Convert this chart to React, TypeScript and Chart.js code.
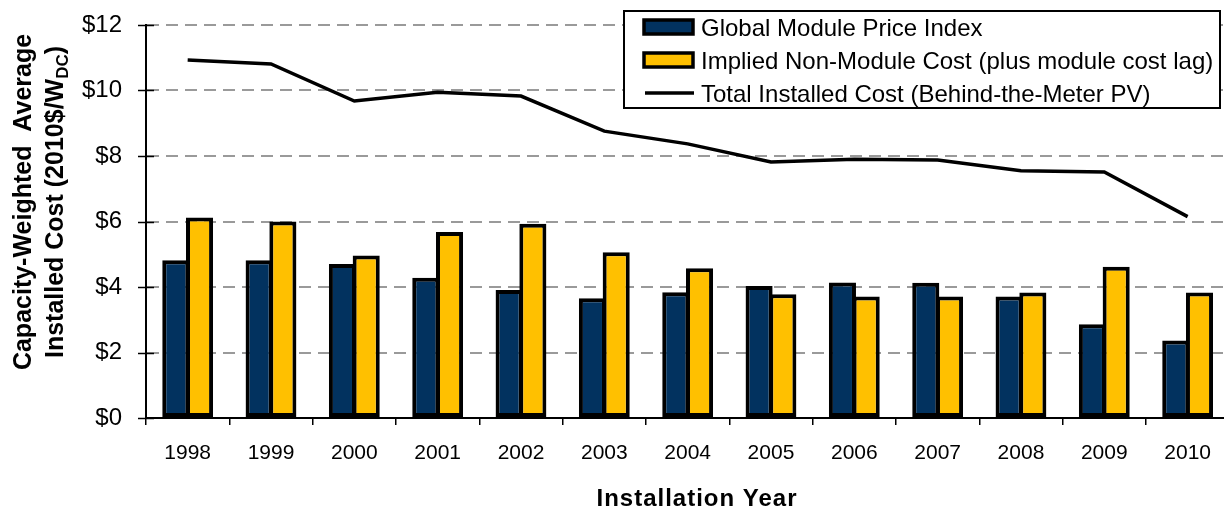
import React, { useEffect, useRef } from "react";
import { Chart, registerables } from "chart.js";

Chart.register(...registerables);

const years = ["1998", "1999", "2000", "2001", "2002", "2003", "2004", "2005", "2006", "2007", "2008", "2009", "2010"];
const modulePrice = [4.82, 4.82, 4.7, 4.28, 3.91, 3.66, 3.84, 4.03, 4.14, 4.13, 3.71, 2.86, 2.37];
const nonModuleCost = [6.12, 6.0, 4.96, 5.68, 5.93, 5.06, 4.57, 3.78, 3.71, 3.71, 3.83, 4.62, 3.83];
const totalInstalled = [10.93, 10.81, 9.68, 9.95, 9.83, 8.76, 8.37, 7.82, 7.9, 7.88, 7.55, 7.51, 6.15];
const yTickLabels = ["$0", "$2", "$4", "$6", "$8", "$10", "$12"];

const seriesNames = [
  "Global Module Price Index",
  "Implied Non-Module Cost (plus module cost lag)",
  "Total Installed Cost (Behind-the-Meter PV)",
];
const yTitleLine1 = "Capacity-Weighted  Average";
const yTitleLine2a = "Installed Cost (2010$/W";
const yTitleSub = "DC";
const yTitleLine2b = ")";
const xTitle = "Installation Year";

const FONT = "'Liberation Sans', Arial, Helvetica, sans-serif";
const BLUE = "#02325F";
const GOLD = "#FFC000";

const overlayPlugin = {
  id: "overlay",
  afterDraw(chart: any) {
    const { ctx, chartArea, scales } = chart;
    const y = scales.y;
    ctx.save();
    // y tick marks crossing the axis
    ctx.strokeStyle = "#000";
    ctx.lineWidth = 1.5;
    y.ticks.forEach((_t: any, i: number) => {
      const py = Math.round(y.getPixelForTick(i)) + 0.5;
      ctx.beginPath();
      ctx.moveTo(chartArea.left - 8, py);
      ctx.lineTo(chartArea.left + 8, py);
      ctx.stroke();
    });
    ctx.restore();

    // y title (rotated, two lines with subscript)
    ctx.save();
    ctx.fillStyle = "#000";
    ctx.translate(31, 202);
    ctx.rotate(-Math.PI / 2);
    ctx.textBaseline = "alphabetic";
    ctx.font = `bold 25px ${FONT}`;
    ctx.textAlign = "center";
    ctx.fillText(yTitleLine1, 0, 0);
    ctx.textAlign = "left";
    const wA = ctx.measureText(yTitleLine2a).width;
    const wB = ctx.measureText(yTitleLine2b).width;
    ctx.font = `bold 17px ${FONT}`;
    const wS = ctx.measureText(yTitleSub).width;
    const total = wA + wS + wB;
    let x0 = -total / 2;
    ctx.font = `bold 25px ${FONT}`;
    ctx.fillText(yTitleLine2a, x0, 32);
    x0 += wA;
    ctx.font = `bold 17px ${FONT}`;
    ctx.fillText(yTitleSub, x0, 37);
    x0 += wS;
    ctx.font = `bold 25px ${FONT}`;
    ctx.fillText(yTitleLine2b, x0, 32);
    ctx.restore();

    // x title
    ctx.save();
    ctx.fillStyle = "#000";
    ctx.font = `bold 24px ${FONT}`;
    ctx.textAlign = "center";
    ctx.textBaseline = "alphabetic";
    (ctx as any).letterSpacing = "1px";
    ctx.fillText(xTitle, 697, 506);
    ctx.restore();

    // legend
    ctx.save();
    const bx = 624, by = 11, bw = 596, bh = 97;
    ctx.fillStyle = "#fff";
    ctx.fillRect(bx, by, bw, bh);
    ctx.strokeStyle = "#000";
    ctx.lineWidth = 2;
    ctx.strokeRect(bx, by, bw, bh);
    const rows = [27, 60, 93];
    const ds = chart.data.datasets;
    rows.forEach((cy, i) => {
      const d = ds[i];
      if (d.type === "line") {
        ctx.strokeStyle = d.borderColor;
        ctx.lineWidth = 3.5;
        ctx.beginPath();
        ctx.moveTo(645, cy);
        ctx.lineTo(694, cy);
        ctx.stroke();
      } else {
        ctx.fillStyle = d.backgroundColor;
        ctx.fillRect(644, cy - 7, 49, 14);
        ctx.strokeStyle = "#000";
        ctx.lineWidth = 3.5;
        ctx.strokeRect(644, cy - 7, 49, 14);
      }
      ctx.fillStyle = "#000";
      ctx.font = `24px ${FONT}`;
      ctx.textAlign = "left";
      ctx.textBaseline = "alphabetic";
      ctx.fillText(d.label, 701, cy + 9);
    });
    ctx.restore();
  },
};

export default function App() {
  const ref = useRef<HTMLCanvasElement>(null);
  useEffect(() => {
    if (!ref.current) return;
    const chart = new Chart(ref.current, {
      type: "bar",
      data: {
        labels: years,
        datasets: [
          {
            type: "bar",
            label: seriesNames[0],
            data: modulePrice,
            backgroundColor: BLUE,
            borderColor: "#000",
            borderWidth: 4,
            borderSkipped: false,
            categoryPercentage: 0.57,
            barPercentage: 1.14,
            order: 1,
          },
          {
            type: "bar",
            label: seriesNames[1],
            data: nonModuleCost,
            backgroundColor: GOLD,
            borderColor: "#000",
            borderWidth: 4,
            borderSkipped: false,
            categoryPercentage: 0.57,
            barPercentage: 1.14,
            order: 1,
          },
          {
            type: "line",
            label: seriesNames[2],
            data: totalInstalled,
            borderColor: "#000",
            backgroundColor: "#000",
            borderWidth: 3.5,
            pointRadius: 0,
            tension: 0,
            order: 0,
          } as any,
        ],
      },
      options: {
        responsive: false,
        animation: false,
        layout: { padding: { top: 25, left: 0, right: 2.7, bottom: 0 } },
        plugins: {
          legend: { display: false },
          tooltip: { enabled: false },
        },
        scales: {
          x: {
            afterFit: (s: any) => {
              s.height = 92;
            },
            grid: {
              display: true,
              drawOnChartArea: false,
              drawTicks: true,
              tickLength: 7,
              color: "#000",
              lineWidth: 1.5,
              offset: true,
            },
            border: { display: true, color: "#000", width: 2 },
            ticks: {
              color: "#000",
              font: { family: FONT, size: 21 },
              padding: 16,
              maxRotation: 0,
            },
          },
          y: {
            min: 0,
            max: 12,
            afterFit: (s: any) => {
              s.width = 146;
              s.paddingTop = 0;
              s.paddingBottom = 0;
            },
            grid: {
              color: "#9a9a9a",
              lineWidth: 2,
              drawTicks: false,
            },
            border: { display: true, color: "#000", width: 2, dash: [12, 7] },
            ticks: {
              stepSize: 2,
              color: "#000",
              padding: 24,
              font: { family: FONT, size: 24 },
              callback: (v: any) => yTickLabels[Math.round(Number(v) / 2)],
            },
          },
        },
      },
      plugins: [overlayPlugin],
    });
    return () => chart.destroy();
  }, []);
  return (
    <div style={{ position: "fixed", left: 0, top: 0, width: 1224, height: 510, overflow: "hidden", background: "#fff" }}>
      <canvas ref={ref} width={1232} height={510} style={{ width: 1232, height: 510, display: "block" }} />
    </div>
  );
}
